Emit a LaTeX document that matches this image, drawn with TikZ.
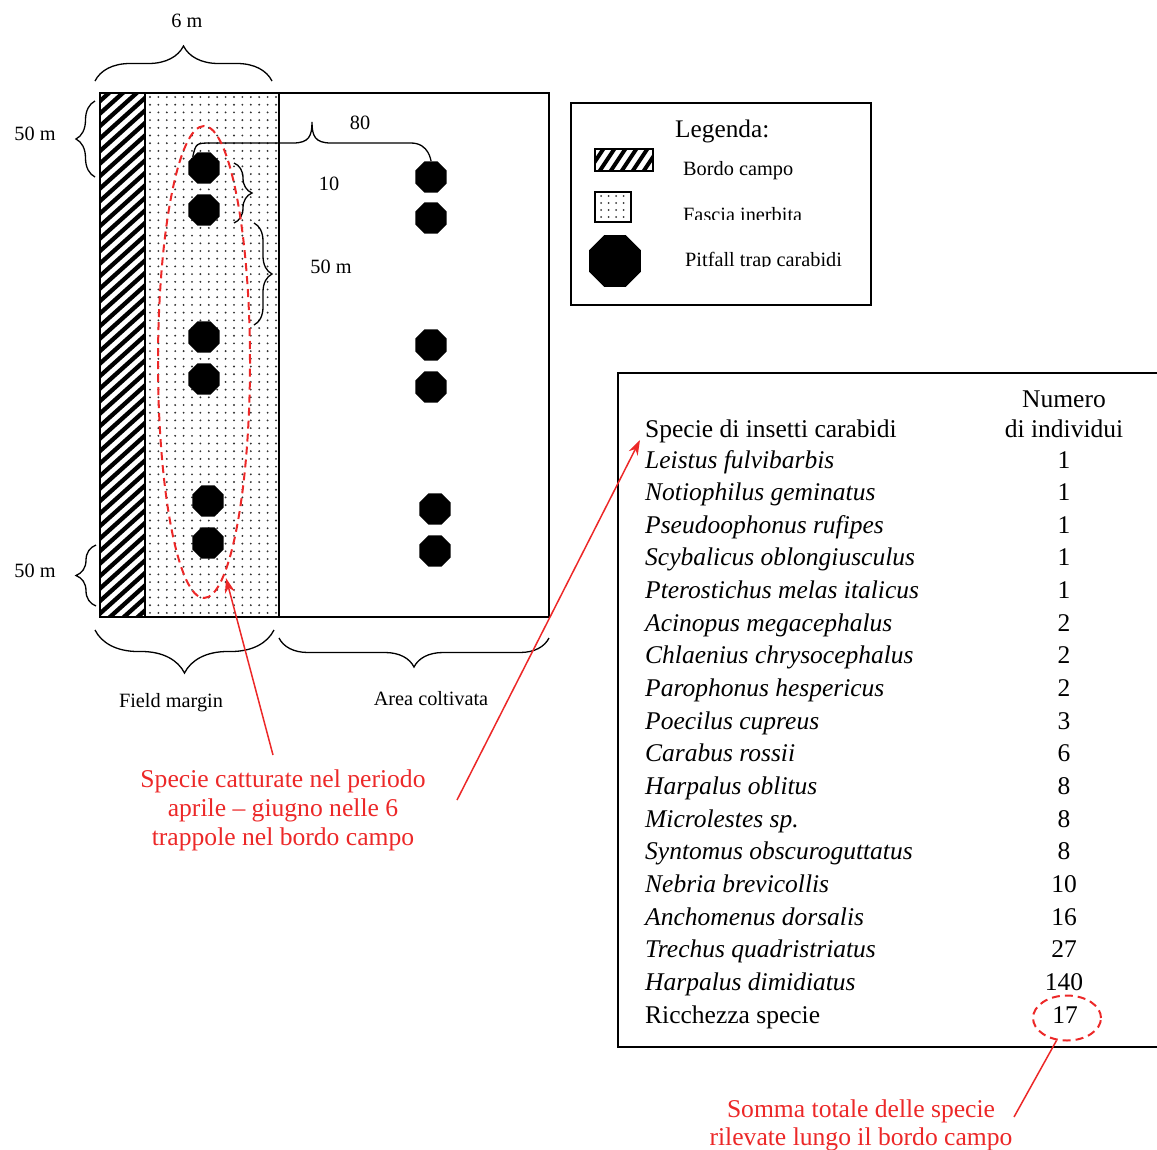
\documentclass[tikz,border=0pt]{standalone}
\usepackage{fontspec}
\setmainfont{Liberation Serif}
\usetikzlibrary{shapes.geometric,decorations.pathreplacing,arrows.meta}
\definecolor{myred}{RGB}{236,40,40}
\definecolor{dotgray}{RGB}{50,50,50}
\begin{document}
\begin{tikzpicture}[x=1pt,y=-1pt,
 trap/.style={regular polygon, regular polygon sides=8, fill=black, draw=none, minimum size=34pt, inner sep=0pt},
 lbl/.style={font=\fontsize{20.3}{24}\selectfont, inner sep=0pt, anchor=base},
 lgd/.style={font=\fontsize{20.3}{24}\selectfont, inner sep=0pt, anchor=base west},
 tbl/.style={font=\fontsize{25.5}{30}\selectfont, inner sep=0pt, anchor=base west},
 num/.style={font=\fontsize{25.5}{30}\selectfont, inner sep=0pt, anchor=base},
 brc/.style={decorate, decoration={brace, amplitude=#1}, line width=1.3pt},
 redtxt/.style={font=\fontsize{25.6}{29}\selectfont, text=myred, inner sep=0pt, anchor=base},
 redline/.style={draw=myred, line width=1.5pt},
 redarrow/.style={redline, -{Stealth[length=15pt,width=10pt]}},
 reddash/.style={draw=myred, line width=2pt, dash pattern=on 8pt off 5pt},
]
\useasboundingbox (0,0) rectangle (1157,1149);

% ---------- field ----------
\begin{scope}
 \clip (100,93) rectangle (145,617);
 \foreach \k in {0,...,48} \draw[line width=4.3pt] (95,93+12.5*\k) -- ++(60,-54);
\end{scope}
\begin{scope}
 \clip (146,94) rectangle (278,616);
 \foreach \i in {0,...,15} \foreach \j in {0,...,67}
  \fill[dotgray] (150+8.4*\i,97+7.7*\j) circle (1.05pt);
\end{scope}
\draw[line width=2pt] (100,93) rectangle (549,617);
\draw[line width=2pt] (145,93) -- (145,617);
\draw[line width=2pt] (279,93) -- (279,617);

% traps
\node[trap] (l1) at (204,168) {};
\node[trap] (l2) at (204,210) {};
\node[trap] (l3) at (204,337) {};
\node[trap] (l4) at (204,379) {};
\node[trap] (l5) at (208,501) {};
\node[trap] (l6) at (208,543) {};
\node[trap] (r1) at (431,177) {};
\node[trap] (r2) at (431,218) {};
\node[trap] (r3) at (431,345) {};
\node[trap] (r4) at (431,387) {};
\node[trap] (r5) at (435,509) {};
\node[trap] (r6) at (435,551) {};

% braces
\draw[brc=35] (95,81) -- (272,81);
\node[lbl] (t6m) at (187,27) {6 m};
\draw[brc=19] (95,177) -- (95,101);
\node[lbl] (t50a) at (35,140) {50 m};
\draw[brc=20] (96,606) -- (96,545);
\node[lbl] (t50b) at (35,577) {50 m};
\draw[brc=43] (274,630) -- (95,630);
\node[lbl] (tfm) at (171,707) {Field margin};
\draw[brc=29] (549,638) -- (279,638);
\node[lbl] (tac) at (431,705) {Area coltivata};
\draw[brc=18] (234,163) -- (234,223);
\node[lbl] (t10) at (329,190) {10};
\draw[brc=18] (254,223) -- (254,325);
\node[lbl] (t50c) at (331,273) {50 m};
\draw[line width=1.3pt] (l1.north west) .. controls (196,143) .. (212,143) -- (293,143)
  .. controls (309,143) and (312,136) .. (312,122)
  .. controls (312,136) and (315,143) .. (331,143) -- (411,143)
  .. controls (429,143) and (r1.north) .. (r1.north);
\node[lbl] (t80) at (360,129) {80};

% red dashed ellipse
\node[ellipse, reddash, minimum width=92pt, minimum height=472pt, inner sep=0pt] (ell) at (204,362) {};

% ---------- legend ----------
\draw[line width=1.5pt] (571,103) rectangle (871,305);
\node[font=\fontsize{25.3}{30}\selectfont, inner sep=0pt, anchor=base west] (lgt) at (675,137) {Legenda:};
\begin{scope}
 \clip (595,149) rectangle (653,171);
 \foreach \k in {0,...,8} \draw[line width=4pt] (575+11*\k,175) -- ++(20,-30);
\end{scope}
\draw[line width=1.5pt] (595,149) rectangle (653,171);
\node[lgd] (lb1) at (683,175) {Bordo campo};
\foreach \i in {0,...,3} \foreach \j in {0,...,3}
  \fill[dotgray] (601+7.5*\i,196+7*\j) circle (1pt);
\draw[line width=1.5pt] (595,192) rectangle (631,222);
\begin{scope}
 \clip (680,190) rectangle (860,219);
 \node[lgd] (lb2) at (683,221.5) {Fascia inerbita};
\end{scope}
\node[trap, minimum size=56pt] (lb3s) at (615,261) {};
\begin{scope}
 \clip (680,235) rectangle (860,266.5);
 \node[lgd] (lb3) at (685,266.5) {Pitfall trap carabidi};
\end{scope}

% ---------- table ----------
\draw[line width=1.8pt] (618,373) rectangle (1175,1047);
\node[num] (hn1) at (1064,407) {Numero};
\node[num] (hn2) at (1064,437) {di individui};
\node[tbl] (hsp) at (645,437) {Specie di insetti carabidi};
\foreach \n/\v [count=\i from 0] in {
 Leistus fulvibarbis/1, Notiophilus geminatus/1, Pseudoophonus rufipes/1,
 Scybalicus oblongiusculus/1, Pterostichus melas italicus/1, Acinopus megacephalus/2,
 Chlaenius chrysocephalus/2, Parophonus hespericus/2, Poecilus cupreus/3,
 Carabus rossii/6, Harpalus oblitus/8, Microlestes sp./8,
 Syntomus obscuroguttatus/8, Nebria brevicollis/10, Anchomenus dorsalis/16,
 Trechus quadristriatus/27, Harpalus dimidiatus/140}
{
 \node[tbl] (sp\i) at (645,468+32.65*\i) {\itshape \n};
 \node[num] (nv\i) at (1064,468+32.65*\i) {\v};
}
\node[tbl] (sp17) at (645,1023) {Ricchezza specie};
\node[num] (nv17) at (1065,1023) {17};
\node[ellipse, reddash, minimum width=68pt, minimum height=45pt, inner sep=0pt] (c17) at (1067,1018) {};

% ---------- red annotations ----------
\node[redtxt] (rt1) at (283,787) {Specie catturate nel periodo};
\node[redtxt] (rt2) at (283,816) {aprile – giugno nelle 6};
\node[redtxt] (rt3) at (283,845) {trappole nel bordo campo};
\coordinate (a1s) at (273,755);
\coordinate (a1e) at (226,578);
\draw[redarrow] (a1s) -- (a1e);
\coordinate (a2s) at (457,800);
\coordinate (a2e) at (640,440);
\draw[redarrow] (a2s) -- (a2e);

\node[redtxt] (bt1) at (861,1117) {Somma totale delle specie};
\node[redtxt] (bt2) at (861,1145) {rilevate lungo il bordo campo};
\coordinate (a3e) at (1014,1117);
\draw[redline] (c17.245) -- (a3e);
\end{tikzpicture}
\end{document}
